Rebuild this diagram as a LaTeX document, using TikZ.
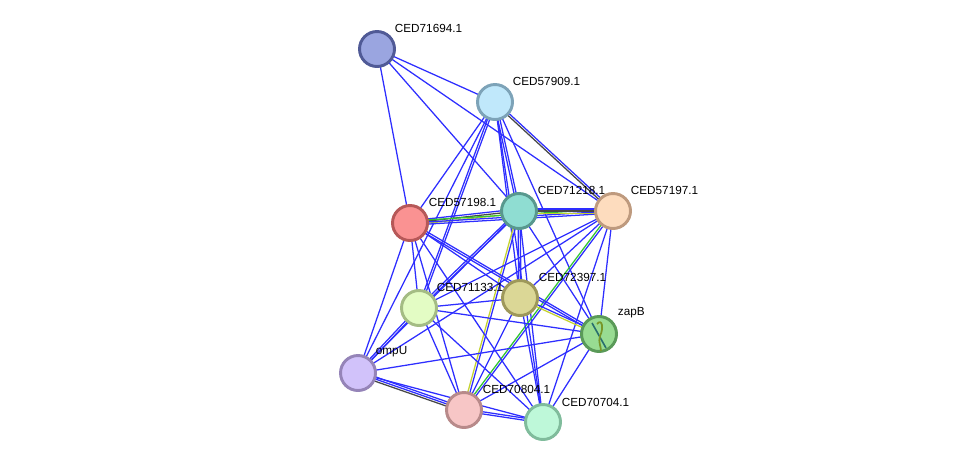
\documentclass[tikz,border=0pt]{standalone}
\usepackage{fontspec}
\setmainfont{Liberation Sans}
\usetikzlibrary{calc}
\pgfdeclarelayer{bg}
\pgfsetlayers{bg,main}
\definecolor{cblue}{HTML}{2E2EFF}
\definecolor{cyel}{HTML}{C5D32E}
\definecolor{cblk}{HTML}{474747}
\definecolor{cgrn}{HTML}{33C433}
\tikzset{
  prot/.style={circle, minimum size=26.25pt, inner sep=0pt, line width=2.2pt},
  lbl/.style={anchor=west, font=\fontsize{8.8pt}{9.5pt}\selectfont, inner sep=0.5pt},
  eb/.style={draw=cblue, line width=0.95pt},
  ey/.style={draw=cyel, line width=0.95pt},
  ek/.style={draw=cblk, line width=0.95pt},
  eg/.style={draw=cgrn, line width=0.95pt},
}
\newcommand\sedge[4]{%
  \foreach \cc [count=\ii] in {#4} {%
    \pgfmathsetmacro\oo{(\ii-(#3+1)/2)*1.6}%
    \draw[\cc] ($(#1.center)!\oo pt!90:(#2.center)$) -- ($(#2.center)!\oo pt!-90:(#1.center)$);
  }}
\begin{document}
\begin{tikzpicture}[x=0.75pt,y=-0.75pt]
\useasboundingbox (0,0) rectangle (975,469);
% nodes
\node[prot, fill={rgb,255:red,154;green,165;blue,224}, draw={rgb,255:red,80;green,90;blue,150}] (A) at (377,49) {};
\node[prot, fill={rgb,255:red,192;green,232;blue,251}, draw={rgb,255:red,125;green,163;blue,184}] (B) at (495,102) {};
\node[prot, fill={rgb,255:red,143;green,221;blue,210}, draw={rgb,255:red,88;green,152;blue,142}] (C) at (519,211) {};
\node[prot, fill={rgb,255:red,253;green,220;blue,190}, draw={rgb,255:red,190;green,154;blue,126}] (D) at (613,211) {};
\node[prot, fill={rgb,255:red,250;green,146;blue,146}, draw={rgb,255:red,182;green,88;blue,88}] (E) at (410,223) {};
\node[prot, fill={rgb,255:red,219;green,215;blue,150}, draw={rgb,255:red,158;green,152;blue,90}] (F) at (520,298) {};
\node[prot, fill={rgb,255:red,227;green,252;blue,196}, draw={rgb,255:red,164;green,188;blue,132}] (G) at (419,308) {};
\node[prot, fill={rgb,255:red,152;green,220;blue,146}, draw={rgb,255:red,90;green,154;blue,88}] (H) at (599,334) {};
\node[prot, fill={rgb,255:red,209;green,194;blue,250}, draw={rgb,255:red,149;green,132;blue,184}] (I) at (358,373) {};
\node[prot, fill={rgb,255:red,247;green,198;blue,198}, draw={rgb,255:red,184;green,138;blue,138}] (J) at (464,410) {};
\node[prot, fill={rgb,255:red,190;green,248;blue,217}, draw={rgb,255:red,128;green,188;blue,156}] (K) at (543,422) {};
% zapB structure glyph
\draw[line width=1.2pt, draw={rgb,255:red,40;green,110;blue,110}] (592,323) -- (606,348);
\draw[line width=1.3pt, draw={rgb,255:red,120;green,150;blue,40}] (597,324) .. controls (602,318) and (604,328) .. (600,336) .. controls (598,342) and (601,346) .. (601,351);
% labels
\node[lbl] (Al) at (394,28) {CED71694.1};
\node[lbl] (Bl) at (512,81) {CED57909.1};
\node[lbl] (Cl) at (537,190) {CED71218.1};
\node[lbl] (Dl) at (630,190) {CED57197.1};
\node[lbl] (El) at (428,202) {CED57198.1};
\node[lbl] (Fl) at (538,277) {CED72397.1};
\node[lbl] (Gl) at (436,287) {CED71133.1};
\node[lbl] (Hl) at (617,313) {zapB};
\node[lbl] (Il) at (375,352) {ompU};
\node[lbl] (Jl) at (482,389) {CED70804.1};
\node[lbl] (Kl) at (561,402) {CED70704.1};
% edges
\begin{pgfonlayer}{bg}
\sedge{A}{B}{1}{eb}
\sedge{A}{C}{1}{eb}
\sedge{A}{D}{1}{eb}
\sedge{A}{E}{1}{eb}
\sedge{B}{D}{2}{ek,eb}
\sedge{B}{C}{2}{eb,eb}
\sedge{B}{F}{1}{eb}
\sedge{B}{H}{1}{eb}
\sedge{B}{K}{1}{eb}
\sedge{B}{E}{1}{eb}
\sedge{B}{G}{2}{eb,eb}
\sedge{B}{I}{1}{eb}
\sedge{E}{C}{3}{ey,ek,eb}
\sedge{E}{D}{3}{eb,eb,eg}
\sedge{C}{D}{3}{ey,ek,eb}
\sedge{C}{F}{2}{eb,eb}
\sedge{C}{J}{2}{ey,eb}
\sedge{C}{G}{2}{eb,eb}
\sedge{C}{I}{1}{eb}
\sedge{C}{K}{1}{eb}
\sedge{C}{H}{1}{eb}
\sedge{D}{F}{1}{eb}
\sedge{D}{G}{1}{eb}
\sedge{D}{I}{1}{eb}
\sedge{D}{H}{1}{eb}
\sedge{D}{K}{1}{eb}
\sedge{D}{J}{2}{eg,eb}
\sedge{E}{F}{1}{eb}
\sedge{E}{H}{2}{eb,eb}
\sedge{E}{G}{1}{eb}
\sedge{E}{I}{1}{eb}
\sedge{E}{J}{1}{eb}
\sedge{E}{K}{1}{eb}
\sedge{F}{G}{1}{eb}
\sedge{F}{H}{2}{ey,eb}
\sedge{F}{J}{1}{eb}
\sedge{F}{K}{1}{eb}
\sedge{G}{H}{1}{eb}
\sedge{G}{I}{2}{eb,eb}
\sedge{G}{J}{1}{eb}
\sedge{G}{K}{1}{eb}
\sedge{H}{I}{1}{eb}
\sedge{H}{J}{1}{eb}
\sedge{H}{K}{1}{eb}
\sedge{I}{J}{3}{ek,eb,eb}
\sedge{I}{K}{1}{eb}
\sedge{J}{K}{2}{eb,eb}
\end{pgfonlayer}
\end{tikzpicture}
\end{document}
